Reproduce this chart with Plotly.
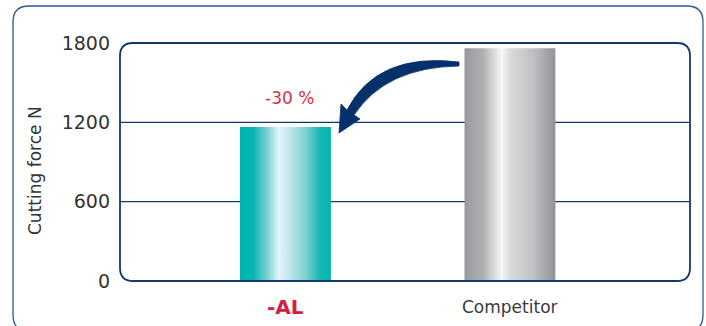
import plotly.graph_objects as go

# ---- data ----
categories = ["-AL", "Competitor"]
values = [1165, 1760]
y_ticks = [0, 600, 1200, 1800]
y_title = "Cutting force N"
reduction_label = "-30 %"

# ---- layout geometry (pixels) ----
W, H = 706, 326
L, R, T, B = 120, 16, 43, 45
PW, PH = W - L - R, H - T - B
x_range = [-0.737, 1.802]
y_range = [0, 1800]
bar_w = 0.405

def px2paper(px, py):
    return (px - L) / PW, (H - B - py) / PH

def path_from_pixels(cmds):
    out = []
    for c in cmds:
        if isinstance(c, str):
            out.append(c)
        else:
            xp, yp = px2paper(*c)
            out.append(f"{xp:.5f},{yp:.5f}")
    return " ".join(out)

def rounded_rect(x0, y0, x1, y1, r):
    return path_from_pixels([
        "M", (x0 + r, y0), "L", (x1 - r, y0),
        "Q", (x1, y0), (x1, y0 + r), "L", (x1, y1 - r),
        "Q", (x1, y1), (x1 - r, y1), "L", (x0 + r, y1),
        "Q", (x0, y1), (x0, y1 - r), "L", (x0, y0 + r),
        "Q", (x0, y0), (x0 + r, y0), "Z"])

teal_scale = [[0, "#00b5b0"], [0.14, "#02b6b1"], [0.3, "#7fd0d3"],
              [0.43, "#e3f5f9"], [0.52, "#c6e9ee"], [0.72, "#7fd0d0"],
              [0.88, "#14b8b3"], [1, "#00b5b0"]]
gray_scale = [[0, "#98999d"], [0.2, "#aeafb2"], [0.41, "#f6f7f6"],
              [0.5, "#dadbdc"], [0.75, "#c0c1c3"], [1, "#929397"]]
scales = [teal_scale, gray_scale]

fig = go.Figure()
for i, (cat, v) in enumerate(zip(categories, values)):
    xs = [i - bar_w / 2, i + bar_w / 2, i + bar_w / 2, i - bar_w / 2, i - bar_w / 2]
    ys = [0, 0, v, v, 0]
    fig.add_trace(go.Scatter(
        x=xs, y=ys, mode="lines", fill="toself",
        line=dict(width=0, color="rgba(0,0,0,0)"),
        fillgradient=dict(type="horizontal", colorscale=scales[i]),
        name=cat, showlegend=False, hoverinfo="skip"))

shapes = []
# outer rounded box
shapes.append(dict(type="path", xref="paper", yref="paper",
                   path=rounded_rect(13, 6, 703, 331, 16),
                   line=dict(color="#2d5a8e", width=1.3), layer="below"))
# inner plot frame
shapes.append(dict(type="path", xref="paper", yref="paper",
                   path=rounded_rect(120, 43, 690, 281, 13),
                   line=dict(color="#14396b", width=1.8), layer="above"))
# interior gridlines
for t in y_ticks[1:-1]:
    shapes.append(dict(type="line", xref="paper", yref="y", x0=0, x1=(689 - L) / PW,
                       y0=t, y1=t, line=dict(color="#14396b", width=1.2), layer="below"))
# curved arrow
shapes.append(dict(type="path", xref="paper", yref="paper",
                   path=path_from_pixels([
                       "M", (459, 62), "Q", (377, 52), (347, 110),
                       "L", (341, 104), "L", (339, 133), "L", (360, 119),
                       "L", (354, 115), "Q", (386, 67), (459, 66), "Z"]),
                   fillcolor="#06306a", line=dict(color="#06306a", width=0.8),
                   layer="above"))

annotations = []
# y-axis title
annotations.append(dict(text=y_title, textangle=-90, xref="paper", yref="paper",
                        x=px2paper(35, 0)[0], y=px2paper(0, 171)[1],
                        showarrow=False, xanchor="center", yanchor="middle",
                        font=dict(family="DejaVu Sans", size=17, color="#333333")))
# category labels
cat_fonts = [dict(family="DejaVu Sans", size=20, color="#d1203f", weight="bold"),
             dict(family="DejaVu Sans", size=17, color="#3a3a3a")]
for i, cat in enumerate(categories):
    annotations.append(dict(text=cat, xref="x", yref="paper", x=i,
                            y=px2paper(0, 307)[1], showarrow=False,
                            xanchor="center", yanchor="middle", font=cat_fonts[i]))
# reduction label
annotations.append(dict(text=reduction_label, xref="x", yref="paper", x=0.02,
                        y=px2paper(0, 98)[1], showarrow=False,
                        xanchor="center", yanchor="middle",
                        font=dict(family="DejaVu Sans", size=17, color="#d6304a")))

fig.update_layout(
    width=W, height=H, margin=dict(l=L, r=R, t=T, b=B),
    paper_bgcolor="white", plot_bgcolor="white",
    shapes=shapes, annotations=annotations, showlegend=False,
    xaxis=dict(range=x_range, showgrid=False, zeroline=False, showline=False,
               showticklabels=False, fixedrange=True),
    yaxis=dict(range=y_range, tickvals=y_ticks, showgrid=False, zeroline=False,
               showline=False, ticks="", ticklabelstandoff=9,
               tickfont=dict(family="DejaVu Sans", size=19, color="#333333"),
               fixedrange=True),
)

fig.write_html("out.html", config={"displayModeBar": False})
